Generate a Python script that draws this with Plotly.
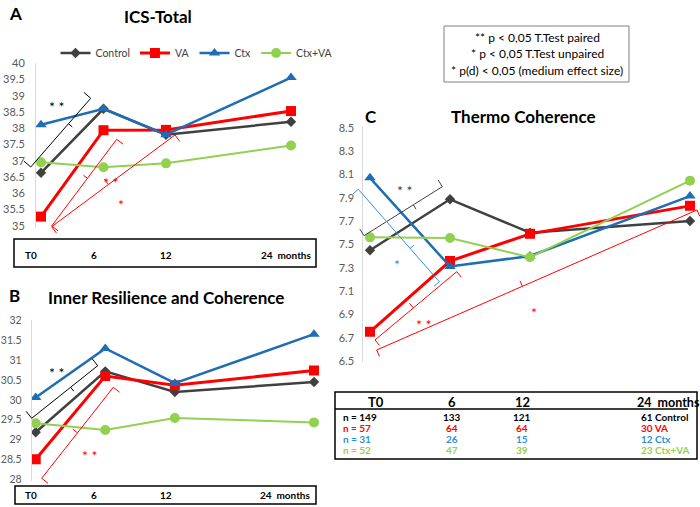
import math
import plotly.graph_objects as go

W, H = 700, 507

# ---------------- data ----------------
months = [0, 6, 12, 24]
groups = ["Control", "VA", "Ctx", "Ctx+VA"]

ics_control = [36.63, 38.60, 37.80, 38.20]
ics_va = [35.28, 37.94, 37.95, 38.53]
ics_ctx = [38.11, 38.60, 37.80, 39.56]
ics_ctxva = [36.95, 36.80, 36.92, 37.47]

irc_control = [29.18, 30.72, 30.20, 30.45]
irc_va = [28.50, 30.60, 30.37, 30.74]
irc_ctx = [30.06, 31.30, 30.42, 31.66]
irc_ctxva = [29.41, 29.24, 29.54, 29.43]

tc_control = [7.45, 7.886, 7.60, 7.70]
tc_va = [6.75, 7.357, 7.59, 7.83]
tc_ctx = [8.07, 7.31, 7.40, 7.914]
tc_ctxva = [7.56, 7.554, 7.389, 8.046]

n_t0 = [149, 57, 31, 52]
n_6 = [133, 64, 26, 47]
n_12 = [121, 64, 15, 39]
n_24 = [61, 30, 12, 23]

month_labels = ["T0", "6", "12", "24  months"]
sig_lines = ["** p < 0,05 T.Test paired", "* p < 0,05 T.Test unpaired",
             "* p(d) < 0,05 (medium effect size)"]

colors = {"Control": "#404040", "VA": "#FF0000", "Ctx": "#1F6EB5", "Ctx+VA": "#92D050"}
table_colors = ["#000000", "#FF0000", "#2F8FD8", "#92D050"]
symbols = {"Control": "diamond", "VA": "square", "Ctx": "triangle-up", "Ctx+VA": "circle"}
msize = {"Control": 8, "VA": 10, "Ctx": 10, "Ctx+VA": 10}
lwidth = {"Control": 2.5, "VA": 3, "Ctx": 2.5, "Ctx+VA": 2}

FONT = "Lato, 'Open Sans', sans-serif"


def px(x):
    return x / W


def py(y):
    return 1 - y / H


def axis_range(p_lo, p_hi, v_a, p_a, v_b, p_b):
    s = (v_b - v_a) / (p_b - p_a)
    return [v_a + (p_lo - p_a) * s, v_a + (p_hi - p_a) * s]


fig = go.Figure()

panels = [
    ("x", "y", [ics_control, ics_va, ics_ctx, ics_ctxva], True),
    ("x2", "y2", [irc_control, irc_va, irc_ctx, irc_ctxva], False),
    ("x3", "y3", [tc_control, tc_va, tc_ctx, tc_ctxva], False),
]
for xa, ya, series, show in panels:
    for g, vals in zip(groups, series):
        fig.add_trace(go.Scatter(
            x=months, y=vals, name=g, mode="lines+markers",
            line=dict(color=colors[g], width=lwidth[g]),
            marker=dict(symbol=symbols[g], size=msize[g], color=colors[g]),
            xaxis=xa, yaxis=ya, showlegend=show, legendgroup=g))

yax_common = dict(showline=True, linecolor="#d9d9d9", linewidth=1, showgrid=False,
                  zeroline=False, ticks="", automargin=False)
xax_common = dict(visible=False, showgrid=False, zeroline=False, automargin=False)
tickfont = dict(family=FONT, size=11, color="#595959")

fig.update_layout(
    xaxis=dict(domain=[px(36), px(300)], range=axis_range(36, 300, 0, 41, 24, 291), **xax_common),
    yaxis=dict(domain=[py(228), py(63)], range=axis_range(228, 63, 35, 225.7, 40, 63.3),
               dtick=0.5, tick0=35, ticklabelstandoff=8, tickfont=tickfont, **yax_common),
    xaxis2=dict(domain=[px(31.7), px(322)], range=axis_range(31.7, 322, 0, 35.7, 24, 314),
                anchor="y2", **xax_common),
    yaxis2=dict(domain=[py(481), py(320)], range=axis_range(481, 320, 28, 479, 32, 320.7),
                dtick=0.5, tick0=28, anchor="x2", ticklabelstandoff=7,
                tickfont=dict(tickfont, size=10.5), **yax_common),
    xaxis3=dict(domain=[px(363.3), 1.0], range=axis_range(363.3, 700, 0, 370, 24, 690),
                anchor="y3", **xax_common),
    yaxis3=dict(domain=[py(362), py(126)], range=axis_range(362, 126, 6.5, 361, 8.5, 127.7),
                dtick=0.2, tick0=6.5, tickformat=".1f", anchor="x3", ticklabelstandoff=6,
                tickfont=tickfont, **yax_common),
)

# ---------------- brackets ----------------
shapes = []


def bracket(p1, p2, arm, t, tick, color, width=1):
    (x1, y1), (x2, y2) = p1, p2
    L = math.hypot(x2 - x1, y2 - y1)
    dx, dy = (x2 - x1) / L, (y2 - y1) / L
    nx, ny = -dy * arm, dx * arm
    s = tick / abs(arm)
    mx, my = x1 + (x2 - x1) * t, y1 + (y2 - y1) * t
    pts = [(x1 + nx, y1 + ny), (x1, y1), (mx, my), (mx - nx * s, my - ny * s)]
    pts2 = [(mx, my), (x2, y2), (x2 + nx, y2 + ny)]
    path = "M " + " L ".join(f"{px(a):.5f},{py(b):.5f}" for a, b in pts)
    path += " M " + " L ".join(f"{px(a):.5f},{py(b):.5f}" for a, b in pts2)
    shapes.append(dict(type="path", path=path, xref="paper", yref="paper",
                       line=dict(color=color, width=width)))


# panel A
bracket((30.7, 167), (90.7, 98.3), -9, 0.63, 5, "#000000")
bracket((116.7, 139.3), (51.7, 226), -8, 0.45, 5, "#FF0000")
bracket((175, 135), (51.7, 226.7), -8, 0.54, 6, "#FF0000")
# panel B
bracket((31.7, 418.3), (97.7, 365.7), -9, 0.59, 5, "#000000")
bracket((113.3, 387.3), (41.7, 478.3), -8, 0.5, 6, "#FF0000")
# panel C
bracket((364, 235.7), (442.3, 186.7), -8, 0.63, 5, "#404040")
bracket((358.3, 189.3), (439.3, 281.7), 7, 0.64, 5, "#2F8FD8")
bracket((456.7, 271.7), (375, 340), -7, 0.53, 6, "#FF0000")
bracket((697, 210), (376.7, 350), -7, 0.545, 6, "#FF0000")


def rect(x0, y0, x1, y1, color="#000000", width=1.5):
    shapes.append(dict(type="rect", xref="paper", yref="paper",
                       x0=px(x0), x1=px(x1), y0=py(y1), y1=py(y0),
                       line=dict(color=color, width=width)))


rect(14, 239, 316, 267)
rect(15, 486, 316, 504)
rect(335, 392, 697, 459)
rect(444, 26, 629, 82, color="#808080", width=1)
shapes.append(dict(type="line", xref="paper", yref="paper", x0=px(335), x1=px(688),
                   y0=py(409), y1=py(409), line=dict(color="#000000", width=1.5)))

# ---------------- annotations ----------------
ann = []


def text(x, y, s, size=11, color="#000000", bold=False, xanchor="center"):
    ann.append(dict(x=px(x), y=py(y), xref="paper", yref="paper",
                    text=(f"<b>{s}</b>" if bold else s),
                    showarrow=False, xanchor=xanchor, yanchor="middle",
                    font=dict(family=FONT, size=size, color=color)))


# panel letters and titles
text(15, 13, "A", 17, bold=True)
text(158, 16, "ICS-Total", 17, bold=True)
text(14, 295, "B", 17, bold=True)
text(166, 297, "Inner Resilience and Coherence", 17, bold=True)
text(371, 116, "C", 17, bold=True)
text(523, 116, "Thermo Coherence", 17, bold=True)

# significance stars
text(57, 107, "* *", 14, "#000000")
text(111, 182, "* *", 14, "#FF0000")
text(121, 204, "*", 14, "#FF0000")
text(57, 372, "* *", 14, "#000000")
text(90, 455, "* *", 14, "#FF0000")
text(405, 190, "* *", 14, "#404040")
text(397, 264, "*", 14, "#2F8FD8")
text(424, 324, "* *", 14, "#FF0000")
text(534, 312, "*", 14, "#FF0000")

# month label boxes under panels A and B
box_x = [22.7, 94.3, 165.5, 259]
for i, lab in enumerate(month_labels):
    anchor = "left" if i in (0, 3) else "center"
    text(box_x[i], 254.5, lab, 10, bold=True, xanchor=anchor)
    text(box_x[i] - (1 if i == 3 else 0), 495, lab, 10, bold=True, xanchor=anchor)

# table of group sizes
text(376, 402, "T0", 13, bold=True)
text(452, 402, "6", 13, bold=True)
text(522, 402, "12", 13, bold=True)
text(635, 402, "24  months", 12.5, bold=True, xanchor="left")
row_y = [417, 428, 439, 450]
for i, g in enumerate(groups):
    c = table_colors[i]
    text(341, row_y[i], f"n = {n_t0[i]}", 10, c, bold=True, xanchor="left")
    text(452, row_y[i], str(n_6[i]), 10, c, bold=True)
    text(522, row_y[i], str(n_12[i]), 10, c, bold=True)
    text(639, row_y[i], f"{n_24[i]} {g}", 10, c, bold=True, xanchor="left")

# significance legend box
for i, s in enumerate(sig_lines):
    text(537, 38 + i * 16, s, 12, "#000000")

fig.update_layout(
    width=W, height=H, margin=dict(l=0, r=0, t=0, b=0, pad=0), autosize=False,
    paper_bgcolor="white", plot_bgcolor="white",
    shapes=shapes, annotations=ann,
    showlegend=True,
    legend=dict(orientation="h", x=px(197), y=py(53), xanchor="center", yanchor="middle",
                font=dict(family=FONT, size=10.5, color="#404040"), bgcolor="rgba(0,0,0,0)",
                itemwidth=30, tracegroupgap=0),
)

fig.write_html("out.html", config={"displayModeBar": False},
               post_script="document.body.style.margin='0';document.body.style.overflow='hidden';")
